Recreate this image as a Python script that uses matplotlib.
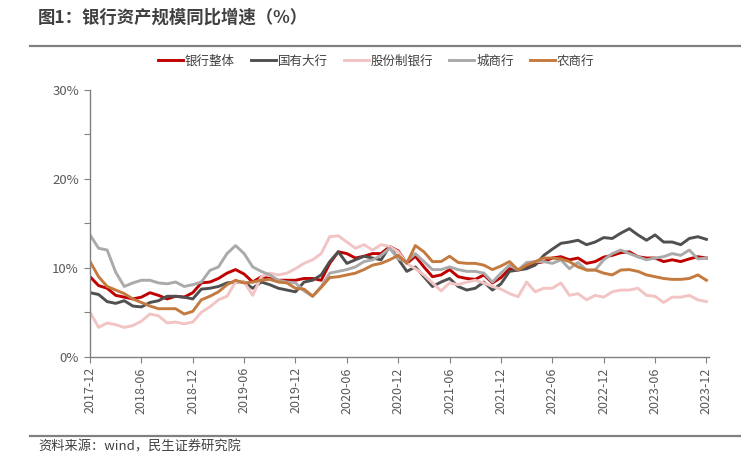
import matplotlib
matplotlib.use("Agg")
import matplotlib.pyplot as plt
import numpy as np
import pandas as pd

plt.rcParams['font.family'] = ['Noto Sans CJK SC', 'DejaVu Sans']

months = pd.period_range('2017-12', '2023-12', freq='M')
tick_labels = [str(p) for p in months[::6]]

series_names = ['银行整体', '国有大行', '股份制银行', '城商行', '农商行']

total = [9.0, 8.0, 7.7, 6.9, 6.7, 6.5, 6.7, 7.2, 6.9, 6.5, 6.8, 6.7, 7.2,
         8.3, 8.4, 8.8, 9.4, 9.8, 9.3, 8.4, 9.0, 8.8, 8.6, 8.6, 8.6,
         8.8, 8.8, 8.6, 10.5, 11.8, 11.6, 11.1, 11.3, 11.6, 11.6, 12.4, 11.9,
         10.5, 11.3, 10.1, 9.0, 9.2, 9.8, 9.0, 8.8, 8.7, 9.2, 8.3, 8.9,
         9.9, 9.75, 10.1, 10.5, 10.7, 11.1, 11.25, 10.9, 11.1, 10.5, 10.7, 11.2,
         11.4, 11.7, 11.8, 11.25, 11.1, 11.1, 10.7, 10.9, 10.7, 11.0, 11.25, 11.1]

big4 = [7.2, 7.0, 6.2, 6.0, 6.3, 5.7, 5.6, 6.1, 6.3, 6.8, 6.8, 6.7, 6.5,
        7.6, 7.7, 7.9, 8.3, 8.4, 8.4, 7.7, 8.4, 8.1, 7.7, 7.5, 7.3,
        8.4, 8.6, 9.2, 10.7, 11.8, 10.5, 10.9, 11.3, 11.1, 10.9, 12.4, 11.0,
        9.6, 10.1, 9.0, 7.9, 8.4, 8.8, 7.9, 7.5, 7.7, 8.4, 7.5, 8.2,
        9.6, 9.75, 9.9, 10.3, 11.4, 12.1, 12.75, 12.9, 13.1, 12.6, 12.9, 13.4,
        13.3, 13.9, 14.4, 13.7, 13.1, 13.7, 12.9, 12.9, 12.6, 13.3, 13.5, 13.2]

joint = [5.0, 3.3, 3.8, 3.6, 3.3, 3.5, 4.0, 4.8, 4.6, 3.8, 3.9, 3.7, 3.9,
         5.0, 5.6, 6.4, 6.8, 8.4, 8.4, 6.9, 9.0, 9.4, 9.2, 9.4, 9.9,
         10.5, 10.9, 11.6, 13.5, 13.6, 12.9, 12.2, 12.6, 12.0, 12.6, 12.4, 11.8,
         10.5, 9.9, 9.2, 8.3, 7.4, 8.3, 8.1, 8.4, 8.6, 8.3, 7.9, 7.6,
         7.1, 6.75, 8.4, 7.3, 7.7, 7.7, 8.3, 6.9, 7.1, 6.4, 6.9, 6.7,
         7.3, 7.5, 7.5, 7.7, 6.9, 6.8, 6.1, 6.7, 6.7, 6.9, 6.4, 6.2]

city = [13.7, 12.2, 12.0, 9.5, 7.9, 8.3, 8.6, 8.6, 8.3, 8.2, 8.4, 7.9, 8.1,
        8.4, 9.7, 10.1, 11.6, 12.5, 11.6, 10.1, 9.6, 9.2, 8.6, 8.4, 8.3,
        7.4, 6.8, 7.9, 9.4, 9.6, 9.8, 10.1, 10.7, 10.9, 11.4, 12.2, 11.0,
        10.7, 11.6, 10.7, 9.8, 9.8, 10.1, 9.8, 9.6, 9.6, 9.4, 8.4, 9.4,
        10.3, 9.75, 10.6, 10.7, 10.7, 10.5, 10.9, 9.9, 10.6, 9.75, 9.75, 10.9,
        11.6, 12.0, 11.6, 11.25, 10.9, 11.1, 11.25, 11.6, 11.4, 12.0, 11.0, 11.1]

rural = [10.7, 9.0, 7.9, 7.5, 7.1, 6.5, 6.1, 5.7, 5.4, 5.4, 5.4, 4.8, 5.1,
         6.4, 6.8, 7.3, 8.1, 8.6, 8.3, 8.4, 8.6, 8.7, 8.4, 8.3, 7.7,
         7.6, 6.8, 7.8, 8.9, 9.0, 9.2, 9.4, 9.8, 10.3, 10.5, 10.9, 11.4,
         10.5, 12.5, 11.8, 10.7, 10.7, 11.3, 10.6, 10.5, 10.5, 10.3, 9.8, 10.2,
         10.7, 9.75, 10.3, 10.7, 11.1, 11.1, 11.0, 10.7, 10.1, 9.75, 9.75, 9.4,
         9.2, 9.75, 9.8, 9.6, 9.2, 9.0, 8.8, 8.7, 8.7, 8.8, 9.2, 8.6]

colors = ['#C00000', '#505050', '#F2C4C4', '#AAAAAA', '#C47A3F']

fig = plt.figure(figsize=(7.41, 4.55), dpi=100)
ax = fig.add_axes([0.1215, 0.216, 0.8353, 0.5862])

x = np.arange(len(months))
for name, vals, c in zip(series_names, [total, big4, joint, city, rural], colors):
    ax.plot(x, vals, color=c, lw=2.1, label=name, solid_joinstyle='round')

ax.set_xlim(0, 72.3)
ax.set_ylim(0, 30)
ax.set_yticks(np.arange(0, 31, 5))
ax.set_yticklabels([f'{v}%' if v % 10 == 0 else '' for v in range(0, 31, 5)])
ax.set_xticks(x[::6])
ax.set_xticklabels(tick_labels, rotation=90)

for s in ['top', 'right']:
    ax.spines[s].set_visible(False)
for s in ['left', 'bottom']:
    ax.spines[s].set_color('#808080')
    ax.spines[s].set_linewidth(1.0)
ax.tick_params(axis='y', colors='#808080', labelcolor='#595959', labelsize=9.5,
               length=4, direction='out', pad=4)
ax.tick_params(axis='x', colors='#808080', labelcolor='#595959', labelsize=9,
               length=4, direction='out')

fig.legend(loc='center', bbox_to_anchor=(376 / 741, 1 - 61 / 455), ncol=5,
           frameon=False, fontsize=9, handlelength=2.0, handletextpad=0.15,
           columnspacing=1.3, labelcolor='#404040')

fig.text(38 / 741, 1 - 18 / 455, '图1：银行资产规模同比增速（%）', fontsize=12.5,
         fontweight='bold', color='#404040', va='center', ha='left')
fig.add_artist(plt.Line2D([30 / 741, 1], [1 - 46 / 455] * 2, color='#808080', lw=1.6))
fig.add_artist(plt.Line2D([30 / 741, 1], [1 - 436 / 455] * 2, color='#808080', lw=1.6))
fig.text(38 / 741, 1 - 447 / 455, '资料来源：wind，民生证券研究院', fontsize=9.5,
         color='#404040', va='center', ha='left')

fig.savefig('out.png', dpi=100)
